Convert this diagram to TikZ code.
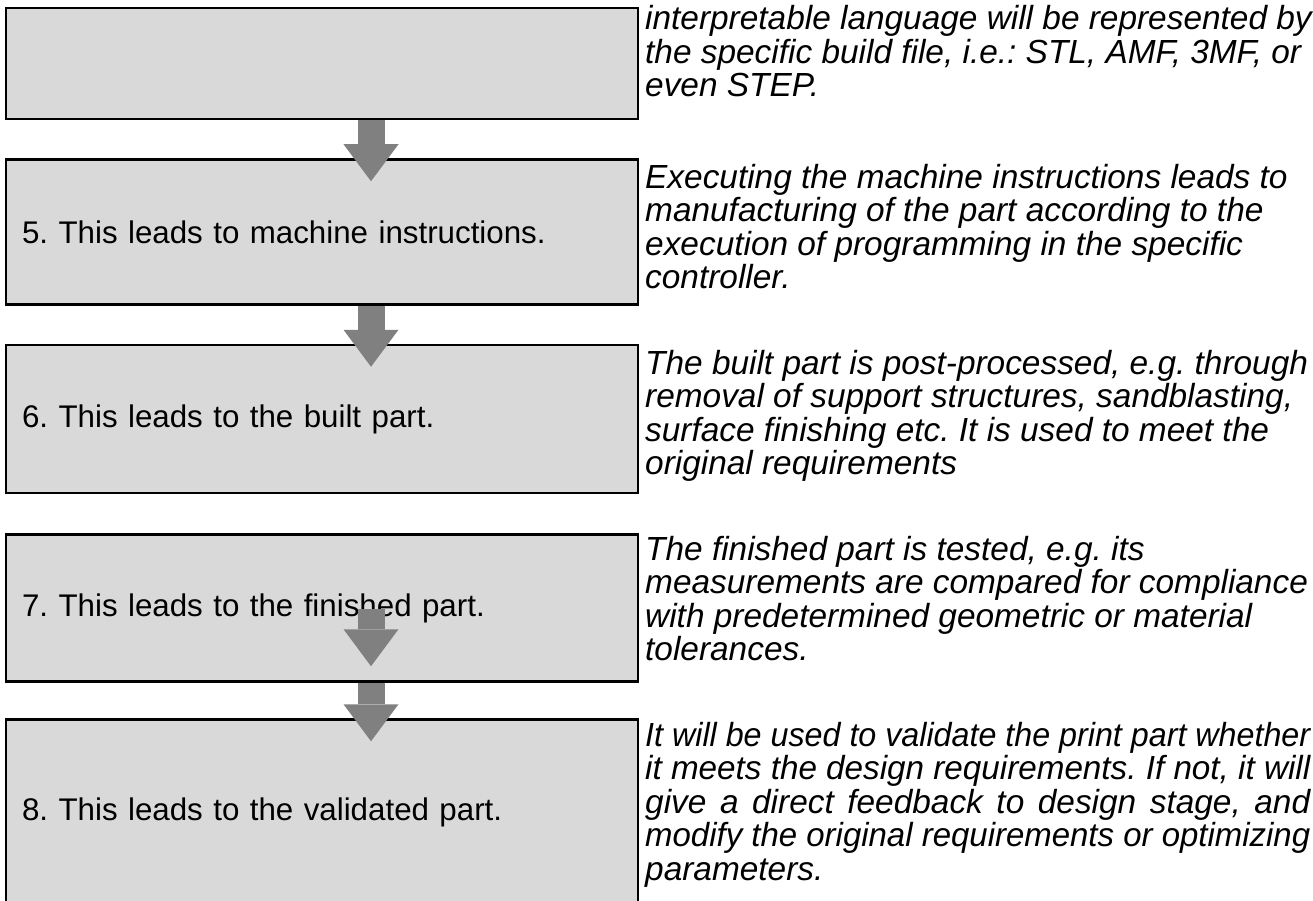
\documentclass[tikz,border=0pt]{standalone}
\usepackage{fontspec}
\setmainfont{Liberation Sans}
\usepackage{graphicx}
\usetikzlibrary{arrows.meta}
\usetikzlibrary{calc}
\definecolor{boxgray}{HTML}{D9D9D9}
\definecolor{arrowgray}{HTML}{808080}
\frenchspacing
% one justified line, squeezed when it is too long
\newsavebox{\notelinebox}
\newcommand{\noteline}[1]{\sbox{\notelinebox}{#1}\ifdim\wd\notelinebox>665pt\resizebox{665pt}{\height}{#1}\else\makebox[665pt][s]{#1}\fi}

\begin{document}
\begin{tikzpicture}[x=1pt, y=-1pt,
    stagebox/.style={draw, line width=2.5pt, fill=boxgray, minimum width=632pt, text width=600pt, inner xsep=16pt, inner ysep=0pt, align=left, font=\fontsize{31.3}{34}\selectfont},
    notetext/.style={anchor=north west, inner sep=0pt, align=left, font=\fontsize{33.4}{33.5}\selectfont\itshape},
    flowarrow/.style={draw=arrowgray, line width=27pt, -{Triangle[width=55pt, length=37pt, line width=0pt]}}]
            \useasboundingbox (0,0) rectangle (1313,901);
            \clip (0,0) rectangle (1313,901);
            % Process stages with their descriptions
            \node[stagebox, minimum height=111pt] (build) at (322,63.5) {};
            \node[stagebox, minimum height=145pt] (machine) at (322,232) {5. This leads to machine instructions.};
            \node[stagebox, minimum height=148pt] (built) at (322,419) {6. This leads to the built part.};
            \node[stagebox, minimum height=147pt] (finished) at (322,608) {7. This leads to the finished part.};
            \node[stagebox, minimum height=185pt] (validated) at (322,812) {8. This leads to the validated part.};

            \node[notetext] (desc4) at (645,5.6) {interpretable language will be represented by\\the specific build file, i.e.: STL, AMF, 3MF, or\\even STEP.};
            \node[notetext] (desc5) at (645,163.6) {Executing the machine instructions leads to\\manufacturing of the part according to the\\execution of programming in the specific\\controller.};
            \node[notetext] (desc6) at (645,349.6) {The built part is post-processed, e.g. through\\removal of support structures, sandblasting,\\surface finishing etc. It is used to meet the\\original requirements};
            \node[notetext] (desc7) at (645,535.6) {The finished part is tested, e.g. its\\measurements are compared for compliance\\with predetermined geometric or material\\tolerances.};
            \node[notetext] (desc8) at (645,721.6) {\noteline{It will be used to validate the print part whether}\\\noteline{it meets the design requirements. If not, it will}\\\noteline{give a direct feedback to design stage, and}\\\noteline{modify the original requirements or optimizing}\\parameters.};

            \coordinate (ax) at (371,0);
            \draw[flowarrow] (build.south -| ax) -- ($(machine.north -| ax)+(0,23)$);
            \draw[flowarrow] (machine.south -| ax) -- ($(built.north -| ax)+(0,23)$);
            \draw[flowarrow] ($(finished.north -| ax)+(0,76)$) -- ($(finished.north -| ax)+(0,133)$);
            \draw[flowarrow] (finished.south -| ax) -- ($(validated.north -| ax)+(0,23)$);
        \end{tikzpicture}
\end{document}
